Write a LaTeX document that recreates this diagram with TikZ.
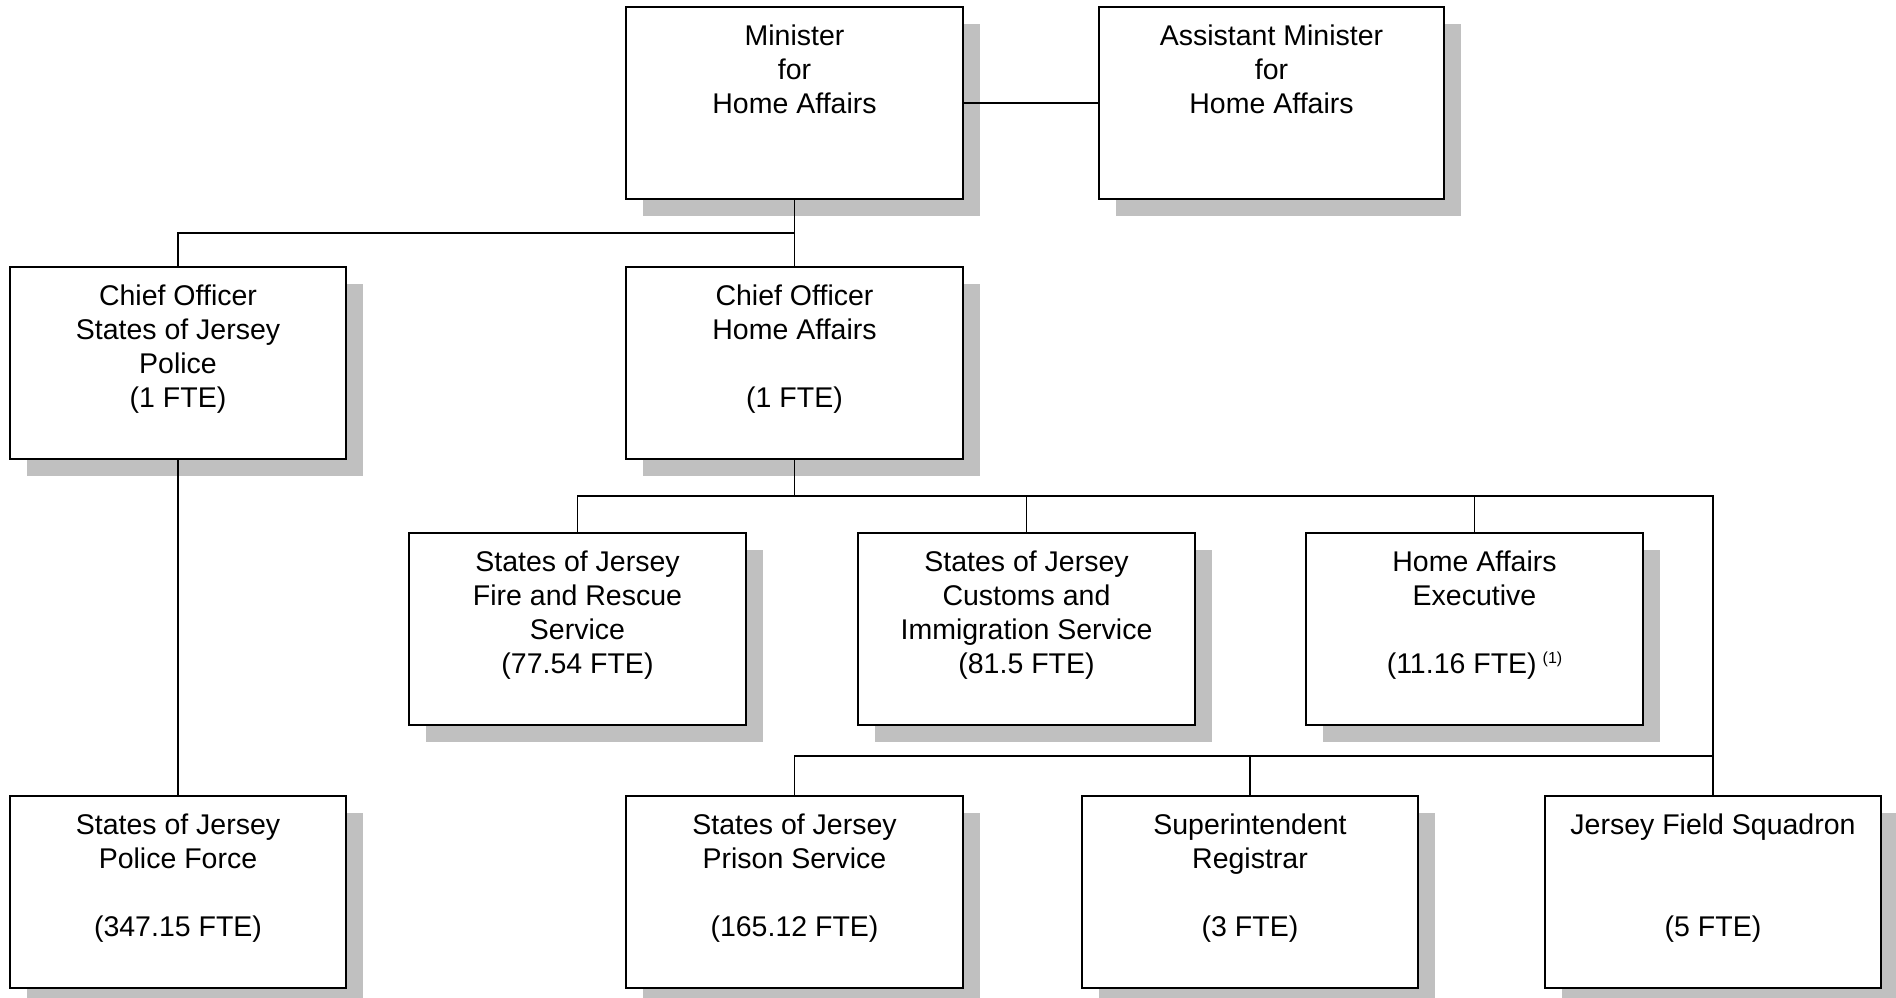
\documentclass[tikz,border=0pt]{standalone}
\usepackage{fontspec}
\setmainfont{Liberation Sans}
\usetikzlibrary{shadows}
\definecolor{shadowgray}{RGB}{192,192,192}
\newcommand\orgtext[3]{\parbox[c][#2pt][t]{#1pt}{\centering\vspace*{18pt}#3}}
\tikzset{
  orgbox/.style={draw=black, line width=2pt, fill=white, inner sep=0pt, outer sep=0pt,
    anchor=north west, rectangle,
    drop shadow={shadow xshift=17pt, shadow yshift=-17pt, fill=shadowgray, opacity=1},
    font=\fontsize{28.5}{34}\selectfont},
  conn/.style={draw=black, line width=1.6pt}
}
\begin{document}
\begin{tikzpicture}[x=1pt,y=-1pt]
\useasboundingbox (0,0) rectangle (1896,998);
% row 1
\node[orgbox] (min) at (626,7) {\orgtext{337}{192}{Minister\\for\\Home Affairs}};
\node[orgbox] (asst) at (1099,7) {\orgtext{345}{192}{Assistant Minister\\for\\Home Affairs}};
% row 2
\node[orgbox] (copol) at (10,267) {\orgtext{336}{192}{Chief Officer\\States of Jersey\\Police\\(1 FTE)}};
\node[orgbox] (coha) at (626,267) {\orgtext{337}{192}{Chief Officer\\Home Affairs\\\mbox{}\\(1 FTE)}};
% row 3
\node[orgbox] (fire) at (409,533) {\orgtext{337}{192}{States of Jersey\\Fire and Rescue\\Service\\(77.54 FTE)}};
\node[orgbox] (cust) at (858,533) {\orgtext{337}{192}{States of Jersey\\Customs and\\Immigration Service\\(81.5 FTE)}};
\node[orgbox] (exec) at (1306,533) {\orgtext{337}{192}{Home Affairs\\Executive\\\mbox{}\\(11.16 FTE)\hspace{6pt}\raisebox{10pt}{\fontsize{16}{16}\selectfont(1)}}};
% row 4
\node[orgbox] (police) at (10,796) {\orgtext{336}{192}{States of Jersey\\Police Force\\\mbox{}\\(347.15 FTE)}};
\node[orgbox] (prison) at (626,796) {\orgtext{337}{192}{States of Jersey\\Prison Service\\\mbox{}\\(165.12 FTE)}};
\node[orgbox] (reg) at (1082,796) {\orgtext{336}{192}{Superintendent\\Registrar\\\mbox{}\\(3 FTE)}};
\node[orgbox] (squad) at (1545,796) {\orgtext{336}{192}{Jersey Field Squadron\\\mbox{}\\\mbox{}\\(5 FTE)}};
% bus levels
\coordinate (bus1) at (0,233);
\coordinate (bus2) at (0,496);
\coordinate (bus3) at (0,756);
% connectors
\draw[conn] (min.east) -- (asst.west);
\draw[conn] (min.south) -- (min.south |- bus1) -| (copol.north);
\draw[conn] (min.south) -- (coha.north);
\draw[conn] (copol.south) -- (police.north);
\draw[conn] (coha.south) -- (coha.south |- bus2);
\draw[conn] (fire.north) |- (squad.north |- bus2) -- (squad.north);
\draw[conn] (cust.north) -- (cust.north |- bus2);
\draw[conn] (exec.north) -- (exec.north |- bus2);
\draw[conn] (prison.north) |- (squad.north |- bus3);
\draw[conn] (reg.north) -- (reg.north |- bus3);
\end{tikzpicture}
\end{document}
